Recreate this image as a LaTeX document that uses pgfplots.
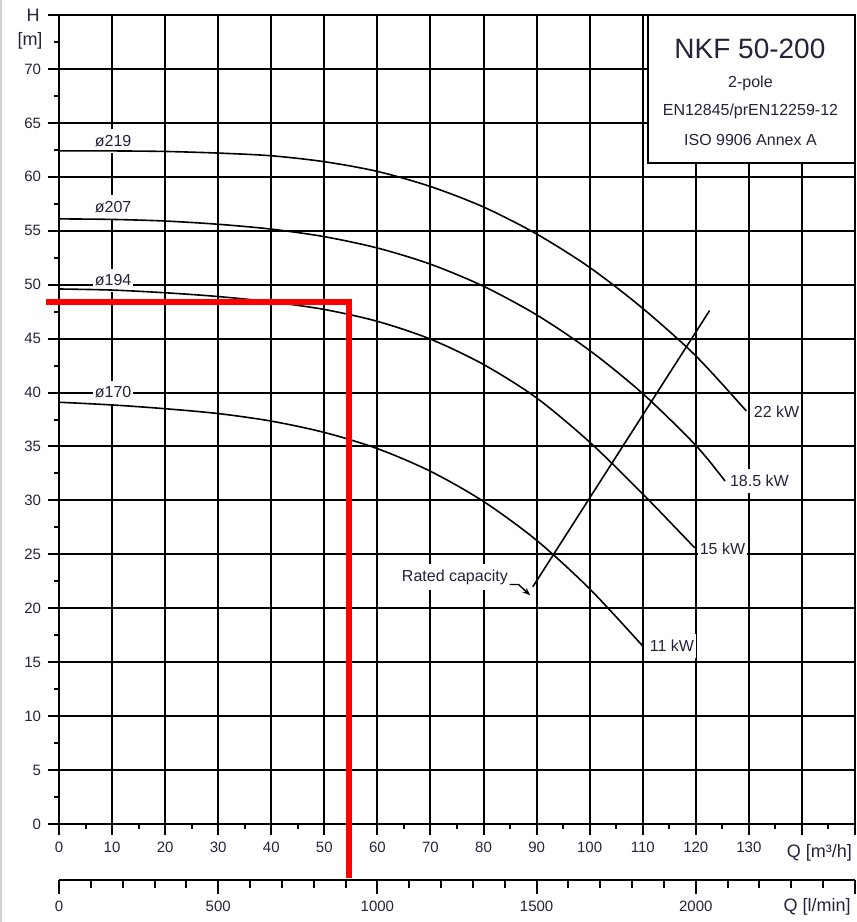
\documentclass[border=0pt]{standalone}
\usepackage{pgfplots}
\pgfplotsset{compat=1.18}
\usepackage{fontspec}
\setmainfont{Liberation Sans}
\usetikzlibrary{arrows.meta}
\definecolor{txt}{RGB}{35,35,60}
\definecolor{redl}{RGB}{255,0,0}
\begin{document}
\begin{tikzpicture}
\useasboundingbox (-29.5pt,-49pt) rectangle (399pt,412pt);
\draw[black!18, line width=1.2pt] (-28.9pt,-49pt) -- (-28.9pt,412pt);
\begin{axis}[
  at={(0,0)}, anchor=south west,
  scale only axis, width=398pt, height=404.5pt,
  xmin=0, xmax=150, ymin=0, ymax=75,
  xtick={0,10,...,150},
  xticklabels={0,10,20,30,40,50,60,70,80,90,100,110,120,130,{},{}},
  ytick={0,5,...,75},
  yticklabels={0,5,10,15,20,25,30,35,40,45,50,55,60,65,70,{}},
  minor x tick num=1, minor y tick num=1,
  grid=major, major grid style={line width=1pt, black},
  axis line style={line width=1pt, black},
  tick align=outside, xtick pos=bottom, ytick pos=left,
  major tick length=5.5pt, minor tick length=2.5pt,
  tick style={line width=1pt, black},
  ticklabel style={font=\fontsize{7.5}{9}\selectfont, text=txt},
  /pgf/number format/assume math mode=true,
  clip=false,
]
% labels (white boxes break the grid)
\node[fill=white, inner xsep=1pt, inner ysep=3pt, font=\fontsize{8}{9}\selectfont, text=txt] at (axis cs:10.2,63.3) {ø219};
\node[fill=white, inner xsep=1pt, inner ysep=3pt, font=\fontsize{8}{9}\selectfont, text=txt] at (axis cs:10.2,57.2) {ø207};
\node[fill=white, inner xsep=1pt, inner ysep=3pt, font=\fontsize{8}{9}\selectfont, text=txt] at (axis cs:10.2,50.4) {ø194};
\node[fill=white, inner xsep=1pt, inner ysep=3pt, font=\fontsize{8}{9}\selectfont, text=txt] at (axis cs:10.2,40.0) {ø170};
\node[fill=white, anchor=west, inner xsep=1pt, inner ysep=3pt, font=\fontsize{8}{9}\selectfont, text=txt] at (axis cs:130.5,38.2) {22 kW};
\node[fill=white, anchor=west, inner xsep=1pt, inner ysep=3pt, font=\fontsize{8}{9}\selectfont, text=txt] at (axis cs:126.0,31.8) {18.5 kW};
\node[fill=white, anchor=west, inner xsep=1pt, inner ysep=3pt, font=\fontsize{8}{9}\selectfont, text=txt] at (axis cs:120.3,25.5) {15 kW};
\node[fill=white, anchor=west, inner xsep=1pt, inner ysep=3pt, font=\fontsize{8}{9}\selectfont, text=txt] at (axis cs:110.9,16.5) {11 kW};
\node[fill=white, inner xsep=1pt, inner ysep=3pt, font=\fontsize{8}{9}\selectfont, text=txt] at (axis cs:74.6,22.9) {Rated capacity};
% pump curves
\addplot[black, line width=0.8pt, smooth] coordinates {
 (0,62.4) (10,62.4) (20,62.35) (30,62.2) (40,61.95) (50,61.4) (60,60.5) (70,59.1)
 (80,57.2) (90,54.7) (100,51.6) (110,47.8) (120,43.4) (129.5,38.3)};
\addplot[black, line width=0.8pt, smooth] coordinates {
 (0,56.1) (10,56.05) (20,55.9) (30,55.6) (40,55.15) (50,54.45) (60,53.4) (70,51.9)
 (80,49.85) (90,47.2) (100,43.9) (110,39.9) (120,35.1) (125.5,31.8)};
\addplot[black, line width=0.8pt, smooth] coordinates {
 (0,49.6) (10,49.5) (20,49.25) (30,48.9) (40,48.4) (50,47.7) (60,46.6) (70,44.95)
 (80,42.6) (90,39.5) (100,35.4) (110,30.6) (119.8,25.6)};
\addplot[black, line width=0.8pt, smooth] coordinates {
 (0,39.1) (10,38.85) (20,38.5) (30,38.05) (40,37.35) (50,36.3) (60,34.8) (70,32.7)
 (80,29.9) (90,26.3) (100,21.8) (110,16.5)};
% rated capacity line
\addplot[black, line width=0.8pt] coordinates {(89.3,22.0) (122.6,47.6)};
\draw[-{Stealth[length=4pt,width=3pt]}, line width=0.7pt, black] (axis cs:84.9,22.2) -- (axis cs:86.6,22.2) -- (axis cs:88.8,21.2);
% title box
\draw[line width=1pt, black, fill=white] (axis cs:110.9,61.3) rectangle (axis cs:150,75);
\node[font=\fontsize{14}{16}\selectfont, text=txt] at (axis cs:130.2,71.9) {NKF 50-200};
\node[font=\fontsize{8}{9}\selectfont, text=txt] at (axis cs:130.3,68.7) {2-pole};
\node[font=\fontsize{8}{9}\selectfont, text=txt] at (axis cs:130.3,66.1) {EN12845/prEN12259-12};
\node[font=\fontsize{8}{9}\selectfont, text=txt] at (axis cs:130.3,63.4) {ISO 9906 Annex A};
% axis titles
\node[font=\fontsize{9}{10}\selectfont, text=txt] at (axis cs:0,75) [xshift=-13pt] {H};
\node[font=\fontsize{9}{10}\selectfont, text=txt] at (axis cs:0,72.6) [xshift=-14.5pt] {[m]};
\node[font=\fontsize{9}{10}\selectfont, text=txt] at (axis cs:143.3,0) [yshift=-14.5pt] {Q [m³/h]};
% red operating point lines
\addplot[redl, line width=3.2pt, line join=miter, line cap=butt] coordinates {(-2.4,48.4) (54.6,48.4) (54.6,-5.0)};
\end{axis}
\begin{axis}[
  at={(0,-28pt)}, anchor=south west,
  scale only axis, width=398pt, height=5pt,
  xmin=0, xmax=2500, ymin=0, ymax=1,
  axis x line=bottom, axis y line=none,
  x axis line style={-, line width=1pt, black},
  xtick={0,500,...,2500},
  xticklabels={0,500,1000,1500,2000,{}},
  minor x tick num=4,
  tick align=outside,
  major tick length=7pt, minor tick length=4pt,
  tick style={line width=1pt, black},
  ticklabel style={font=\fontsize{7.5}{9}\selectfont, text=txt},
  /pgf/number format/assume math mode=true,
  /pgf/number format/1000 sep={},
  clip=false,
]
\addplot[draw=none] coordinates {(0,0) (2500,0)};
\node[font=\fontsize{9}{10}\selectfont, text=txt] at (axis cs:2381,0) [yshift=-13.5pt] {Q [l/min]};
\end{axis}
\end{tikzpicture}
\end{document}
